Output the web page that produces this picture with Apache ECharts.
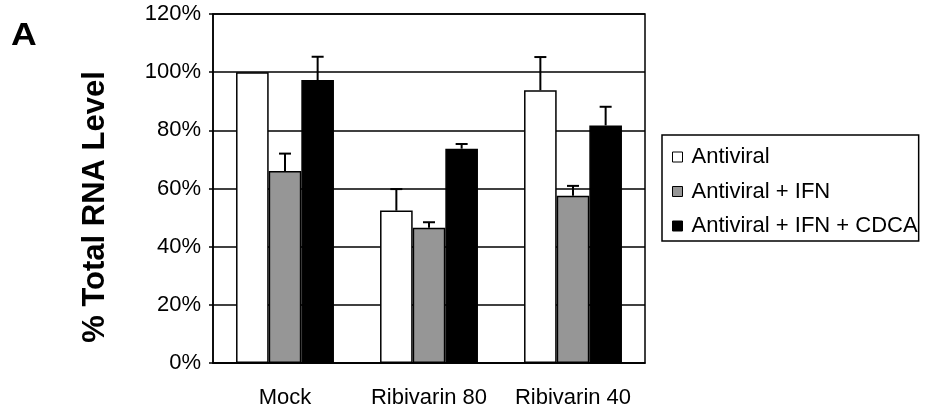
<!DOCTYPE html>
<html>
<head>
<meta charset="utf-8">
<script src="https://cdn.jsdelivr.net/npm/echarts@6/dist/echarts.min.js"></script>
</head>
<body style="margin:0;background:#fff;">
<div id="main" style="width: 927px;height:415px;"></div>
<script>
var categories = ['Mock', 'Ribivarin 80', 'Ribivarin 40'];
var seriesNames = ['Antiviral', 'Antiviral + IFN', 'Antiviral + IFN + CDCA'];
var antiviral = [100, 52.4, 93.8];
var antiviralErr = [0, 7.4, 11.4];
var antiviralIfn = [66, 46.5, 57.5];
var antiviralIfnErr = [6, 1.9, 3.4];
var antiviralIfnCdca = [97.3, 73.7, 81.7];
var antiviralIfnCdcaErr = [8, 1.6, 6.4];
var yTicks = [0, 20, 40, 60, 80, 100, 120];

var colors = ['#ffffff', '#969696', '#000000'];
var values = [antiviral, antiviralIfn, antiviralIfnCdca];
var errors = [antiviralErr, antiviralIfnErr, antiviralIfnCdcaErr];
var font = 'Liberation Sans, Arial, sans-serif';

var myChart = echarts.init(document.getElementById('main'));

function errorSeries(s){
    var data = [];
    for (var i = 0; i < categories.length; i++) {
        data.push([i, values[s][i], errors[s][i]]);
    }
    return {
        type: 'custom',
        z: 5,
        data: data,
        renderItem: function(params, api){
            var err = api.value(2);
            if (!err) return null;
            var band = api.size([1, 0])[0];
            var barW = band * 0.68 / 3;
            var p0 = api.coord([api.value(0), api.value(1)]);
            var p1 = api.coord([api.value(0), api.value(1) + err]);
            var x = p0[0] + (s - 1) * barW;
            var st = {stroke: '#000', lineWidth: 2};
            return {
                type: 'group',
                children: [
                    {type: 'line', shape: {x1: x, y1: p0[1], x2: x, y2: p1[1]}, style: st},
                    {type: 'line', shape: {x1: x - 6, y1: p1[1], x2: x + 6, y2: p1[1]}, style: st}
                ]
            };
        }
    };
}

var series = [];
for (var s = 0; s < 3; s++) {
    series.push({
        name: seriesNames[s],
        type: 'bar',
        data: values[s],
        barGap: '0%',
        barCategoryGap: '32%',
        z: 3,
        itemStyle: {color: colors[s], borderColor: '#000', borderWidth: 1.5}
    });
}
for (var s2 = 0; s2 < 3; s2++) {
    series.push(errorSeries(s2));
}

option = {
    animation: false,
    backgroundColor: '#fff',
    grid: {
        left: 213, right: 282, top: 14, bottom: 52,
        show: true, borderColor: '#000', borderWidth: 1.5
    },
    legend: {
        orient: 'vertical',
        left: 662,
        top: 135,
        data: seriesNames,
        icon: 'rect',
        itemWidth: 10,
        itemHeight: 10,
        itemGap: 12.5,
        padding: [11, 1, 4, 10],
        borderColor: '#000',
        borderWidth: 1.5,
        itemStyle: {borderColor: '#000', borderWidth: 1},
        textStyle: {fontFamily: font, fontSize: 22, color: '#000', lineHeight: 22, padding: [0, 0, 0, 4]}
    },
    xAxis: {
        type: 'category',
        data: categories,
        axisLine: {lineStyle: {color: '#000', width: 1.5}},
        axisTick: {length: 7, lineStyle: {color: '#000', width: 1.5}},
        axisLabel: {fontFamily: font, fontSize: 22, color: '#000', margin: 24, interval: 0}
    },
    yAxis: {
        type: 'value',
        min: yTicks[0],
        max: yTicks[yTicks.length - 1],
        interval: 20,
        axisLine: {show: true, lineStyle: {color: '#000', width: 1.5}},
        axisTick: {show: true, length: 4, lineStyle: {color: '#000', width: 1.5}},
        splitLine: {lineStyle: {color: '#000', width: 1.5}},
        axisLabel: {fontFamily: font, fontSize: 22, color: '#000', margin: 12, formatter: '{value}%'}
    },
    graphic: [
        {type: 'text', x: 11, y: 36, scaleX: 1.15, style: {text: 'A', font: 'bold 31px ' + font, fill: '#000', verticalAlign: 'middle'}},
        {type: 'text', x: 95, y: 207, rotation: Math.PI / 2,
         style: {text: '% Total RNA Level', font: 'bold 31px ' + font, fill: '#000', align: 'center', verticalAlign: 'middle'}}
    ],
    series: series
};
myChart.setOption(option);
</script>
</body>
</html>
